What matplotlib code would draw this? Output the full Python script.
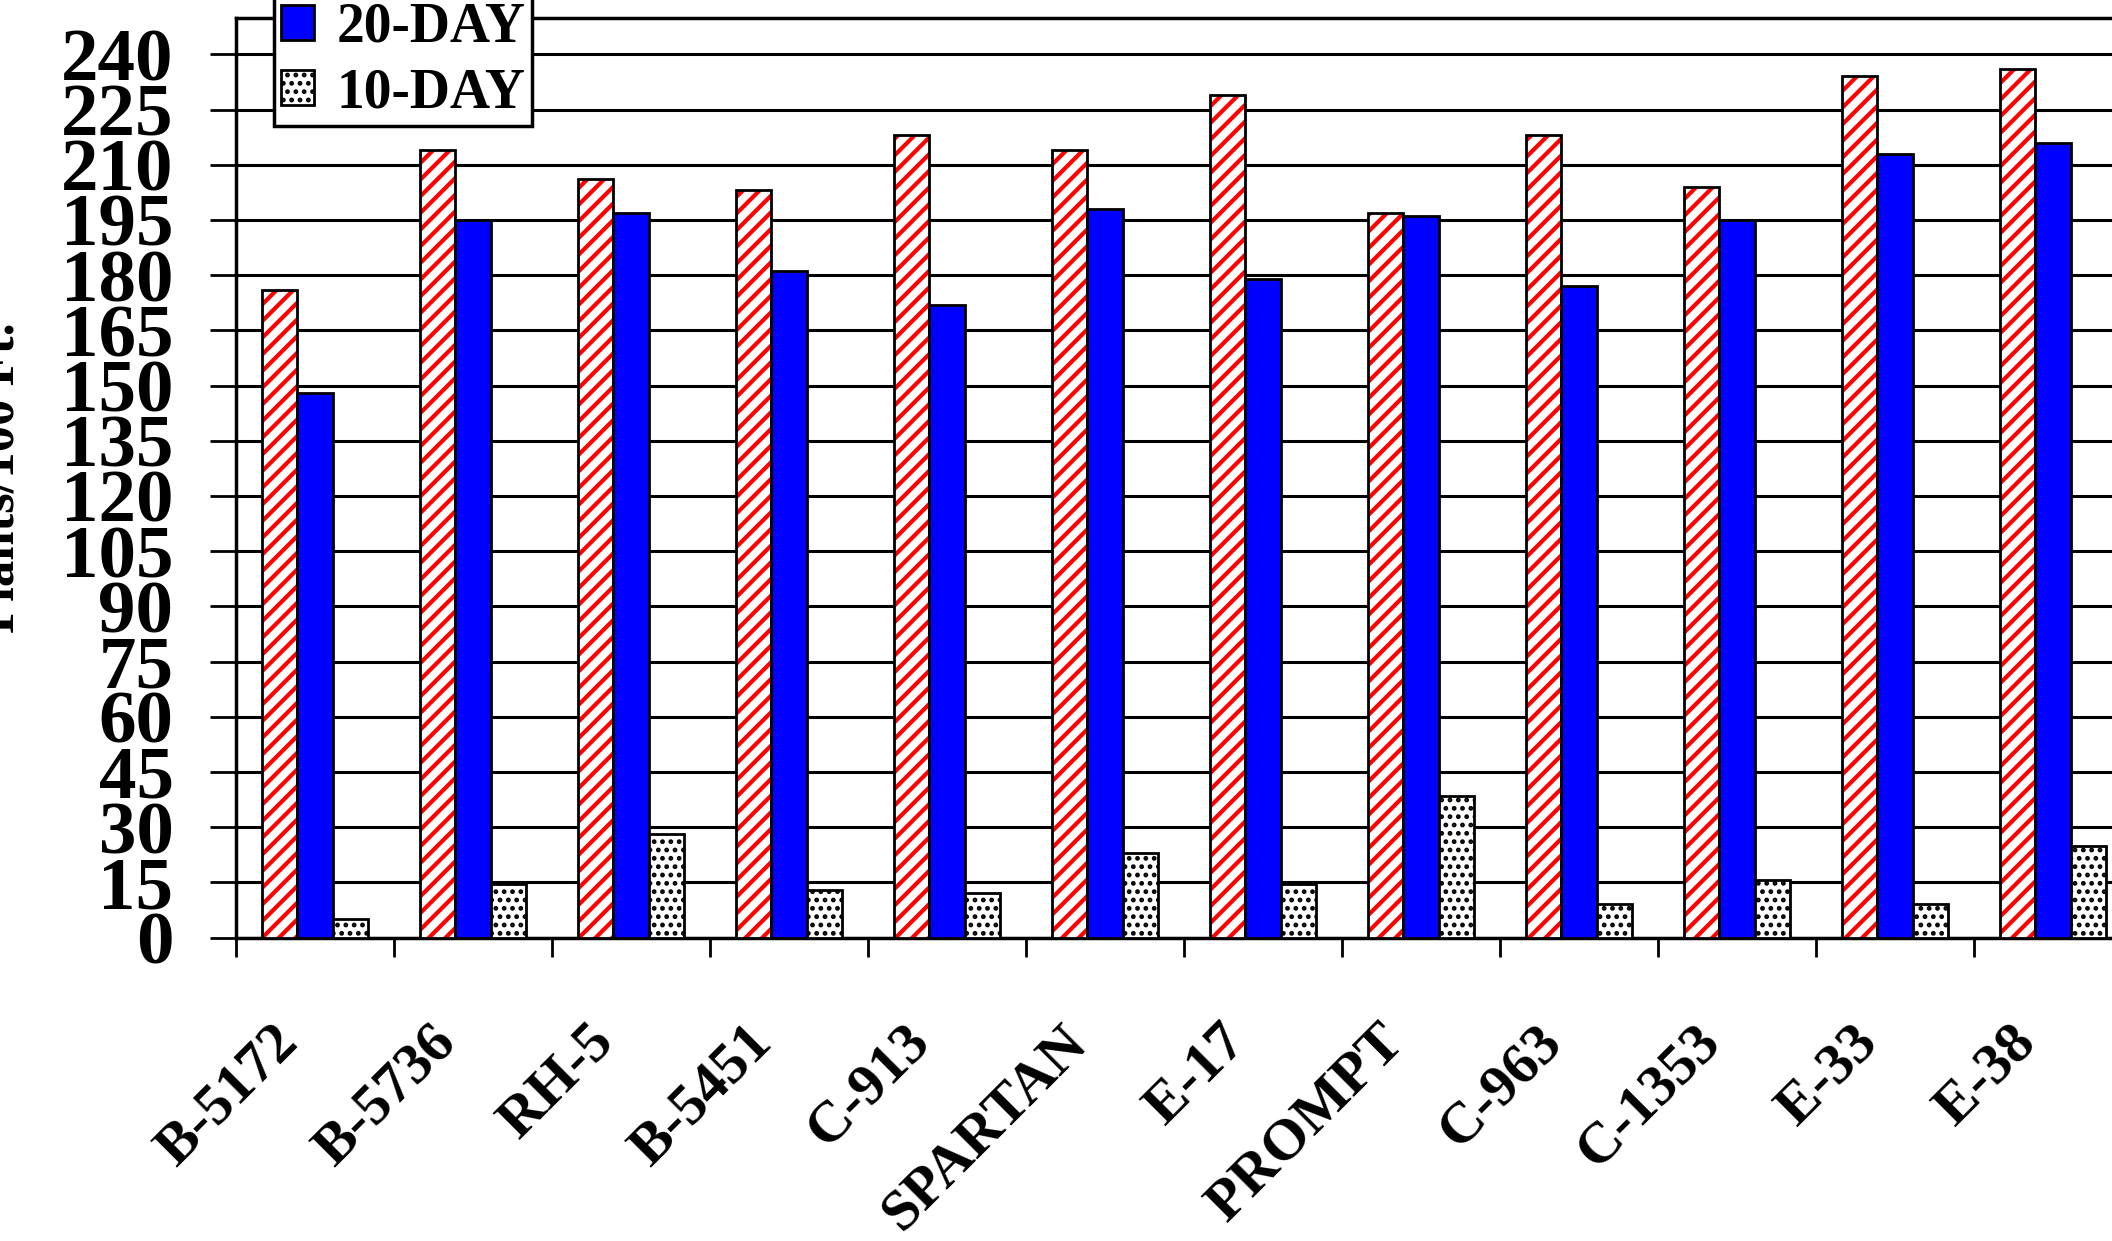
import numpy as np
import matplotlib
matplotlib.use("Agg")
import matplotlib.pyplot as plt
from matplotlib.patches import Patch
from matplotlib.transforms import ScaledTranslation

plt.rcParams['font.family'] = ['Liberation Serif', 'DejaVu Serif']
plt.rcParams['font.weight'] = 'bold'

categories = ["B-5172", "B-5736", "RH-5", "B-5451", "C-913", "SPARTAN", "E-17",
              "PROMPT", "C-963", "C-1353", "E-33", "E-38"]
day30 = [176, 214, 206, 203, 218, 214, 229, 197, 218, 204, 234, 236]
day20 = [148, 195, 197, 181, 172, 198, 179, 196, 177, 195, 213, 216]
day10 = [5, 14.5, 28, 13, 12, 23, 14.5, 38.5, 9, 15.5, 9, 25]
yticks = list(range(0, 241, 15))
series_names = ["20-DAY", "10-DAY"]

W, H = 2112, 1241
fig = plt.figure(figsize=(W / 100, H / 100), dpi=100)
ax = fig.add_axes([236 / W, 1 - 937.5 / H, (2132 - 236) / W, (937.5 - 17.5) / H])

x = np.arange(len(categories))
bw = 0.225

# red hatched (30-day) bars: hatch layer then outline
red = ax.bar(x - bw, day30, bw, facecolor='white', edgecolor='red', linewidth=0,
             hatch='//', zorder=3)
for p in red:
    if hasattr(p, 'set_hatch_linewidth'):
        p.set_hatch_linewidth(3.0)
ax.bar(x - bw, day30, bw, fill=False, edgecolor='black', linewidth=2, zorder=4)

ax.bar(x, day20, bw, color='#0000FF', edgecolor='black', linewidth=2, zorder=3)

dots = ax.bar(x + bw, day10, bw, facecolor='white', edgecolor='black', linewidth=2,
              hatch='..', zorder=3)
for p in dots:
    if hasattr(p, 'set_hatch_linewidth'):
        p.set_hatch_linewidth(2.2)

ax.set_xlim(-0.5, len(categories) - 0.5)
ax.set_ylim(0, 250)
ax.set_yticks(yticks)
ax.set_yticklabels([str(v) for v in yticks], fontsize=54, fontweight='bold')
ax.tick_params(axis='y', length=19, width=2, pad=26, direction='out')
ax.set_xticks(np.arange(len(categories) + 1) - 0.5)
ax.set_xticklabels([])
ax.tick_params(axis='x', length=14, width=2, direction='out')

ax.grid(axis='y', color='black', linewidth=2.2)
ax.set_axisbelow(True)
for s in ['left', 'bottom', 'top']:
    ax.spines[s].set_linewidth(2.5)
ax.spines['right'].set_visible(False)

# category labels
for xi, lab in zip(x, categories):
    ax.text(xi, 0, lab, rotation=45, rotation_mode='anchor', ha='right', va='top',
            fontsize=42, fontweight='bold',
            transform=ax.get_xaxis_transform() + ScaledTranslation(-44 / 100, -78 / 100, fig.dpi_scale_trans))

fig.text(14 / W, 1 - 478 / H, "Plants/100 Ft.", rotation=90, rotation_mode='anchor',
         ha='center', va='baseline', fontsize=38, fontweight='bold')

handles = [Patch(facecolor='#0000FF', edgecolor='black', linewidth=2),
           Patch(facecolor='white', edgecolor='black', linewidth=2, hatch='..')]
leg = fig.legend(handles, series_names, loc='lower left',
                 bbox_to_anchor=(274 / W, 1 - 126 / H), prop={'size': 40, 'weight': 'bold'},
                 fancybox=False, framealpha=1, edgecolor='black', borderpad=0.12,
                 handlelength=0.6, handleheight=0.6, handletextpad=0.4,
                 labelspacing=0.24, borderaxespad=0)
leg.get_frame().set_linewidth(2.5)
for h in leg.legend_handles:
    if hasattr(h, 'set_hatch_linewidth'):
        h.set_hatch_linewidth(2.2)

fig.savefig("out.png", dpi=100)
